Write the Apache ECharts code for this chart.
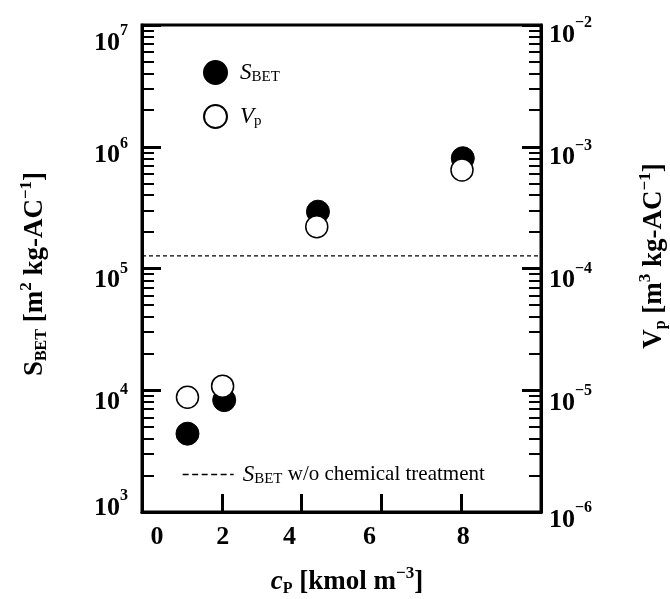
<!DOCTYPE html>
<html>
<head>
<meta charset="utf-8">
<script src="https://cdn.jsdelivr.net/npm/echarts@6/dist/echarts.min.js"></script>
<style>
  html, body { margin: 0; padding: 0; background: #fff; }
  #chart { width: 670px; height: 599px; }
</style>
</head>
<body>
<div id="chart"></div>
<script>
// Phosphoric-acid concentration vs. BET surface area and pore volume
const cpS = [1.14, 2.06, 4.41, 8.04];           // kmol m^-3
const sBET = [4.4e3, 8.3e3, 2.93e5, 8.05e5];    // m^2 kg-AC^-1
const cpV = [1.14, 2.02, 4.38, 8.02];           // kmol m^-3
const vP = [8.75e-6, 1.08e-5, 2.2e-4, 6.45e-4]; // m^3 kg-AC^-1
const sBETUntreated = 1.27e5;                   // reference level, no chemical treatment
const xRange = [0, 10];
const xLabelValues = [0, 2, 4, 6, 8];
const xTickValues = [2, 4, 6, 8];
const sDecades = [1e3, 1e4, 1e5, 1e6, 1e7];
const vDecades = [1e-6, 1e-5, 1e-4, 1e-3, 1e-2];

const SERIF = 'Liberation Serif';

// hand-placed label nudges (px): x labels horizontally, power labels vertically
const xLabelNudge = { 0: 15, 2: 1, 4: -12, 6: -12, 8: 2 };
const powerNudge = { 7: 18, 6: 9, 5: 12, 4: 12, 3: -4, '-2': 10, '-3': 11, '-4': 12, '-5': 13, '-6': 8 };

// minor log ticks (2..9 within every decade)
function minorTicks(decades) {
  const out = [];
  for (let i = 0; i < decades.length - 1; i++) {
    for (let m = 2; m <= 9; m++) out.push(decades[i] * m);
  }
  return out;
}

function vPad(shift) {
  // middle-aligned token: text moves by (top - bottom) / 2
  return shift >= 0 ? [2 * shift, 0, 0, 0] : [0, 0, -2 * shift, 0];
}

const powerRich = {};
Object.keys(powerNudge).forEach(k => {
  const key = k.replace('-', 'm');
  powerRich['b' + key] = { fontFamily: SERIF, fontWeight: 'bold', fontSize: 26, color: '#000', padding: vPad(powerNudge[k]) };
  powerRich['s' + key] = { fontFamily: SERIF, fontWeight: 'bold', fontSize: 16, color: '#000', padding: vPad(powerNudge[k] - 12) };
});
function powerLabel(v) {
  const e = Math.round(Math.log10(v));
  const key = String(e).replace('-', 'm');
  return '{b' + key + '|10}{s' + key + '|' + String(e).replace('-', '\u2212') + '}';
}

const xRich = {};
xLabelValues.forEach(v => {
  const n = xLabelNudge[v] || 0;
  xRich['x' + v] = {
    fontFamily: SERIF, fontWeight: 'bold', fontSize: 26, color: '#000',
    padding: n >= 0 ? [0, 0, 0, 2 * n] : [0, -2 * n, 0, 0]
  };
});

function logAxis(opts) {
  return Object.assign({
    type: 'log',
    logBase: 10,
    splitLine: { show: false },
    minorTick: { show: false },
    minorSplitLine: { show: false }
  }, opts);
}

const chart = echarts.init(document.getElementById('chart'), null, { renderer: 'canvas' });

const textRich = {
  t: { fontFamily: SERIF, fontWeight: 'bold', fontSize: 27, color: '#000' },
  i: { fontFamily: SERIF, fontWeight: 'bold', fontStyle: 'italic', fontSize: 27, color: '#000' },
  u: { fontFamily: SERIF, fontWeight: 'bold', fontSize: 27, color: '#000' },
  sub: { fontFamily: SERIF, fontWeight: 'bold', fontSize: 16, color: '#000', padding: [13, 0, 0, 0] },
  sup: { fontFamily: SERIF, fontWeight: 'bold', fontSize: 17, color: '#000', padding: [0, 0, 16, 0] }
};

const legendRich = {
  i: { fontFamily: SERIF, fontStyle: 'italic', fontSize: 23, color: '#000' },
  sub: { fontFamily: SERIF, fontSize: 15, color: '#000', padding: [10, 0, 0, 0] },
  t: { fontFamily: SERIF, fontSize: 21, color: '#000' }
};

chart.setOption({
  animation: false,
  backgroundColor: '#fff',
  grid: {
    left: 142, right: 129, top: 25, bottom: 87,
    show: true, borderColor: '#000', borderWidth: 3,
    containLabel: false, outerBoundsMode: 'none'
  },
  legend: [
    {
      data: ['sbet', 'vp'],
      orient: 'vertical',
      left: 198, top: 55,
      itemWidth: 23, itemHeight: 23, itemGap: 19,
      icon: 'circle',
      formatter: n => n === 'sbet' ? '{i|S}{sub|BET}' : '{i|V}{sub|p}',
      textStyle: { rich: legendRich, padding: [0, 0, 0, 8] },
      selectedMode: false
    },
    {
      data: ['untreated'],
      left: 177, top: 458,
      itemWidth: 51, itemHeight: 14,
      itemStyle: { opacity: 0 },
      lineStyle: { color: '#000', width: 1.3, type: [6, 3.5] },
      formatter: () => '{i|S}{sub|BET}{t| w/o chemical treatment}',
      textStyle: { rich: legendRich, padding: [0, 0, 0, 4] },
      selectedMode: false
    }
  ],
  xAxis: {
    type: 'value',
    min: xRange[0], max: xRange[1], interval: 2,
    axisLine: { lineStyle: { color: '#000', width: 3 } },
    axisTick: { inside: true, length: 18, lineStyle: { color: '#000', width: 3 }, customValues: xTickValues },
    axisLabel: {
      customValues: xLabelValues,
      formatter: v => '{x' + v + '|' + v + '}',
      rich: xRich,
      margin: 12
    },
    splitLine: { show: false }
  },
  yAxis: [
    logAxis({
      min: sDecades[0], max: sDecades[sDecades.length - 1], position: 'left',
      axisLine: { show: true, lineStyle: { color: '#000', width: 3 } },
      axisTick: { inside: true, length: 19, lineStyle: { color: '#000', width: 3 }, customValues: sDecades },
      axisLabel: { customValues: sDecades, formatter: powerLabel, rich: powerRich, margin: 14 }
    }),
    logAxis({
      min: vDecades[0], max: vDecades[vDecades.length - 1], position: 'right',
      axisLine: { show: true, lineStyle: { color: '#000', width: 3 } },
      axisTick: { inside: true, length: 19, lineStyle: { color: '#000', width: 3 }, customValues: vDecades },
      axisLabel: { customValues: vDecades, formatter: powerLabel, rich: powerRich, margin: 8 }
    }),
    logAxis({
      min: sDecades[0], max: sDecades[sDecades.length - 1], position: 'left',
      axisLine: { show: false },
      axisTick: { inside: true, length: 12, lineStyle: { color: '#000', width: 2 }, customValues: minorTicks(sDecades) },
      axisLabel: { show: false }
    }),
    logAxis({
      min: vDecades[0], max: vDecades[vDecades.length - 1], position: 'right',
      axisLine: { show: false },
      axisTick: { inside: true, length: 12, lineStyle: { color: '#000', width: 2 }, customValues: minorTicks(vDecades) },
      axisLabel: { show: false }
    })
  ],
  series: [
    {
      name: 'untreated',
      type: 'line',
      yAxisIndex: 0,
      data: [[xRange[0], sBETUntreated], [xRange[1], sBETUntreated]],
      symbol: 'none',
      lineStyle: { color: '#000', width: 1.3, type: [4, 3] },
      itemStyle: { color: '#000' },
      silent: true,
      z: 1
    },
    {
      name: 'sbet',
      type: 'scatter',
      yAxisIndex: 0,
      data: cpS.map((x, i) => [x, sBET[i]]),
      symbol: 'circle',
      symbolSize: 23,
      itemStyle: { color: '#000', borderColor: '#000', borderWidth: 1, opacity: 1 },
      emphasis: { disabled: true },
      z: 3
    },
    {
      name: 'vp',
      type: 'scatter',
      yAxisIndex: 1,
      data: cpV.map((x, i) => [x, vP[i]]),
      symbol: 'circle',
      symbolSize: 22,
      itemStyle: { color: '#fff', borderColor: '#000', borderWidth: 1.5, opacity: 1 },
      emphasis: { disabled: true },
      z: 4
    }
  ],
  graphic: [
    {
      type: 'text', x: 35, y: 274, rotation: Math.PI / 2,
      style: {
        text: '{u|S}{sub|BET}{t| [m}{sup|2}{t| kg-AC}{sup|\u22121}{t|]}',
        rich: textRich, align: 'center', verticalAlign: 'middle'
      }
    },
    {
      type: 'text', x: 654, y: 256, rotation: Math.PI / 2,
      style: {
        text: '{u|V}{sub|p}{t| [m}{sup|3}{t| kg-AC}{sup|\u22121}{t|]}',
        rich: textRich, align: 'center', verticalAlign: 'middle'
      }
    },
    {
      type: 'text', x: 347, y: 582,
      style: {
        text: '{i|c}{sub|P}{t| [kmol m}{sup|\u22123}{t|]}',
        rich: textRich, align: 'center', verticalAlign: 'middle'
      }
    }
  ]
});
</script>
</body>
</html>
